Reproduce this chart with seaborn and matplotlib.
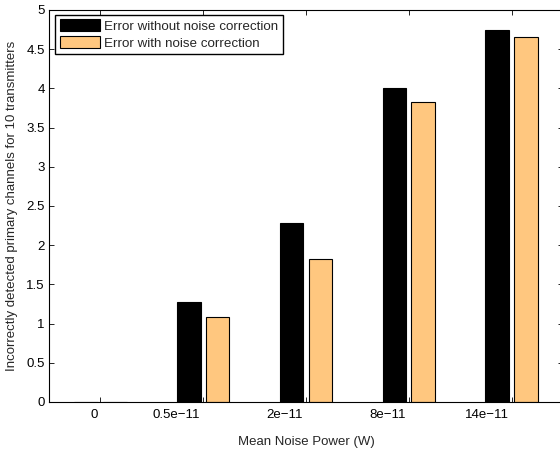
import pandas as pd
import matplotlib
matplotlib.use('Agg')
import matplotlib.pyplot as plt
import matplotlib.transforms as mtransforms
import seaborn as sns

# Values
noise_power = ['0', '0.5e\u221211', '2e\u221211', '8e\u221211', '14e\u221211']
err_without = [0.0, 1.28, 2.28, 4.01, 4.74]
err_with = [0.0, 1.09, 1.82, 3.83, 4.65]
series_names = ['Error without noise correction', 'Error with noise correction']
bar_colors = ['#000000', '#FFC77F']

# long form table for seaborn
df = pd.DataFrame({
    'power': noise_power * 2,
    'value': err_without + err_with,
    'series': [series_names[0]] * len(noise_power) + [series_names[1]] * len(noise_power),
})

sns.set_style('ticks')
plt.rcParams['font.family'] = ['Liberation Sans', 'DejaVu Sans']

fig = plt.figure(figsize=(5.6, 4.54), dpi=100)
ax = fig.add_axes([49 / 560, 52 / 454, 514 / 560, 392 / 454])

sns.barplot(data=df, x='power', y='value', hue='series', order=noise_power,
            hue_order=series_names, palette=bar_colors, width=0.56, gap=0.18,
            edgecolor='black', linewidth=0.8, saturation=1, ax=ax)

ax.set_xlim(-0.5, 4.5)
ax.set_ylim(0, 5)
ax.set_yticks([i * 0.5 for i in range(11)])
ax.set_yticklabels(['0', '0.5', '1', '1.5', '2', '2.5', '3', '3.5', '4', '4.5', '5'])

# MATLAB-like box with inward ticks on all sides
for side in ['top', 'right', 'bottom', 'left']:
    ax.spines[side].set_visible(True)
    ax.spines[side].set_linewidth(0.8)
    ax.spines[side].set_color('black')
ax.tick_params(direction='in', length=3.5, width=0.6, top=True, right=True,
               labelsize=9.5, colors='black')
ax.tick_params(axis='x', pad=5)
ax.tick_params(axis='y', pad=3)

# labels sit right-aligned a little left of the tick
offset = mtransforms.ScaledTranslation(-3 / 100, 0, fig.dpi_scale_trans)
for lbl in ax.get_xticklabels():
    lbl.set_horizontalalignment('right')
    lbl.set_transform(lbl.get_transform() + offset)

ax.set_xlabel('Mean Noise Power (W)', fontsize=9.5, labelpad=11)
ax.set_ylabel('Incorrectly detected primary channels for 10 transmitters', fontsize=9.5, labelpad=6)

handles, labels = ax.get_legend_handles_labels()
leg = ax.legend(handles, labels, loc='upper left', bbox_to_anchor=(0.012, 0.988),
                fontsize=9.6, handlelength=3.0, handleheight=1.0, handletextpad=0.3,
                labelspacing=0.25, borderpad=0.35, borderaxespad=0, fancybox=False,
                framealpha=1, edgecolor='black')
leg.get_frame().set_linewidth(1.0)

fig.savefig('out.png', dpi=100)
